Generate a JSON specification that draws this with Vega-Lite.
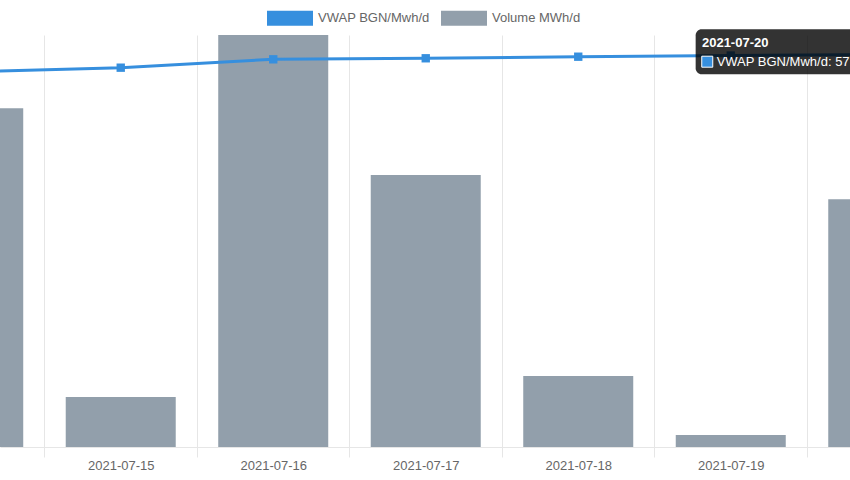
{
  "$schema": "https://vega.github.io/schema/vega-lite/v6.json",
  "width": 850,
  "height": 412,
  "autosize": {"type": "none"},
  "padding": {"top": 35, "left": 0, "right": 0, "bottom": 33},
  "background": "#ffffff",
  "config": {
    "view": {"stroke": null},
    "font": "Liberation Sans",
    "axis": {"labelFont": "Liberation Sans", "labelFontSize": 13, "labelColor": "#666666"},
    "legend": {"labelFont": "Liberation Sans", "labelFontSize": 13, "labelColor": "#666666"}
  },
  "data": {
    "values": [
      {"date": "2021-07-14", "volume": 19730, "vwap": 54.63},
      {"date": "2021-07-15", "volume": 2913, "vwap": 55.24},
      {"date": "2021-07-16", "volume": 24000, "vwap": 56.46},
      {"date": "2021-07-17", "volume": 15845, "vwap": 56.61},
      {"date": "2021-07-18", "volume": 4136, "vwap": 56.84},
      {"date": "2021-07-19", "volume": 699, "vwap": 57.01},
      {"date": "2021-07-20", "volume": 14429, "vwap": 57.16}
    ]
  },
  "encoding": {
    "x": {
      "field": "date",
      "type": "temporal",
      "title": null,
      "scale": {
        "type": "utc",
        "nice": false,
        "padding": 0,
        "domain": [
          {"year": 2021, "month": 7, "date": 14, "hours": 5, "minutes": 0, "utc": true},
          {"year": 2021, "month": 7, "date": 19, "hours": 18, "minutes": 46, "utc": true}
        ]
      },
      "axis": {
        "values": [
          {"year": 2021, "month": 7, "date": 14, "utc": true},
          {"year": 2021, "month": 7, "date": 14, "hours": 12, "utc": true},
          {"year": 2021, "month": 7, "date": 15, "utc": true},
          {"year": 2021, "month": 7, "date": 15, "hours": 12, "utc": true},
          {"year": 2021, "month": 7, "date": 16, "utc": true},
          {"year": 2021, "month": 7, "date": 16, "hours": 12, "utc": true},
          {"year": 2021, "month": 7, "date": 17, "utc": true},
          {"year": 2021, "month": 7, "date": 17, "hours": 12, "utc": true},
          {"year": 2021, "month": 7, "date": 18, "utc": true},
          {"year": 2021, "month": 7, "date": 18, "hours": 12, "utc": true},
          {"year": 2021, "month": 7, "date": 19, "utc": true},
          {"year": 2021, "month": 7, "date": 19, "hours": 12, "utc": true},
          {"year": 2021, "month": 7, "date": 20, "utc": true}
        ],
        "labelExpr": "utchours(datum.value) === 0 ? utcFormat(datum.value, '%Y-%m-%d') : ''",
        "labelOverlap": false,
        "labelFlush": false,
        "labelBound": false,
        "labelPadding": 2,
        "tickSize": 10,
        "tickColor": "#e6e6e6",
        "tickOpacity": {"condition": {"test": "utchours(datum.value) === 12", "value": 1}, "value": 0},
        "grid": true,
        "gridColor": "#e6e6e6",
        "gridOpacity": {"condition": {"test": "utchours(datum.value) === 12", "value": 1}, "value": 0},
        "domainColor": "#e6e6e6",
        "domainWidth": 1
      }
    }
  },
  "layer": [
    {
      "mark": {"type": "bar", "size": 110, "clip": true},
      "encoding": {
        "y": {"field": "volume", "type": "quantitative", "scale": {"domain": [0, 24000]}, "axis": null},
        "color": {
          "datum": "Volume MWh/d",
          "type": "nominal",
          "scale": {"domain": ["VWAP BGN/Mwh/d", "Volume MWh/d"], "range": ["#368fde", "#929fab"]},
          "legend": {
            "title": null,
            "orient": "none",
            "direction": "horizontal",
            "legendX": 267,
            "legendY": -40,
            "padding": 0,
            "symbolType": "M-1,-0.326L1,-0.326L1,0.326L-1,0.326Z",
            "symbolSize": 2116,
            "labelOffset": 5,
            "columnPadding": 11,
            "encode": {
              "symbols": {
                "update": {
                  "fill": {"scale": "color", "field": "value"},
                  "stroke": {"value": "transparent"},
                  "strokeWidth": {"value": 0},
                  "opacity": {"value": 1}
                }
              }
            }
          }
        }
      }
    },
    {
      "mark": {"type": "line", "strokeWidth": 3, "clip": true, "point": {"shape": "square", "size": 70, "filled": true}},
      "encoding": {
        "y": {"field": "vwap", "type": "quantitative", "scale": {"domain": [0, 60]}, "axis": null},
        "color": {"datum": "VWAP BGN/Mwh/d", "type": "nominal"}
      }
    },
    {
      "transform": [{"filter": "utcdate(datum.date) === 20"}],
      "mark": {"type": "rect", "width": 178, "height": 45, "xOffset": -98.6, "yOffset": -2.8, "cornerRadius": 6, "color": "#000000", "opacity": 0.8},
      "encoding": {
        "y": {"field": "vwap", "type": "quantitative", "scale": {"domain": [0, 60]}, "axis": null}
      }
    },
    {
      "transform": [{"filter": "utcdate(datum.date) === 20"}],
      "mark": {"type": "text", "align": "left", "baseline": "alphabetic", "dx": -181.3, "dy": -7.8, "fontSize": 13, "fontWeight": "bold", "color": "#ffffff", "font": "Liberation Sans"},
      "encoding": {
        "y": {"field": "vwap", "type": "quantitative", "scale": {"domain": [0, 60]}, "axis": null},
        "text": {"field": "date", "type": "temporal", "timeUnit": "utcyearmonthdate", "format": "%Y-%m-%d"}
      }
    },
    {
      "transform": [{"filter": "utcdate(datum.date) === 20"}],
      "mark": {"type": "point", "shape": "square", "size": 121, "filled": true, "fill": "#368fde", "stroke": "#ffffff", "strokeWidth": 1, "opacity": 1, "xOffset": -176, "yOffset": 7.2},
      "encoding": {
        "y": {"field": "vwap", "type": "quantitative", "scale": {"domain": [0, 60]}, "axis": null}
      }
    },
    {
      "transform": [{"filter": "utcdate(datum.date) === 20"}],
      "mark": {"type": "text", "align": "left", "baseline": "alphabetic", "dx": -166.6, "dy": 11.2, "fontSize": 13, "color": "#ffffff", "font": "Liberation Sans"},
      "encoding": {
        "y": {"field": "vwap", "type": "quantitative", "scale": {"domain": [0, 60]}, "axis": null},
        "text": {"value": "VWAP BGN/Mwh/d: 57.16"}
      }
    }
  ],
  "resolve": {"scale": {"y": "independent"}}
}
